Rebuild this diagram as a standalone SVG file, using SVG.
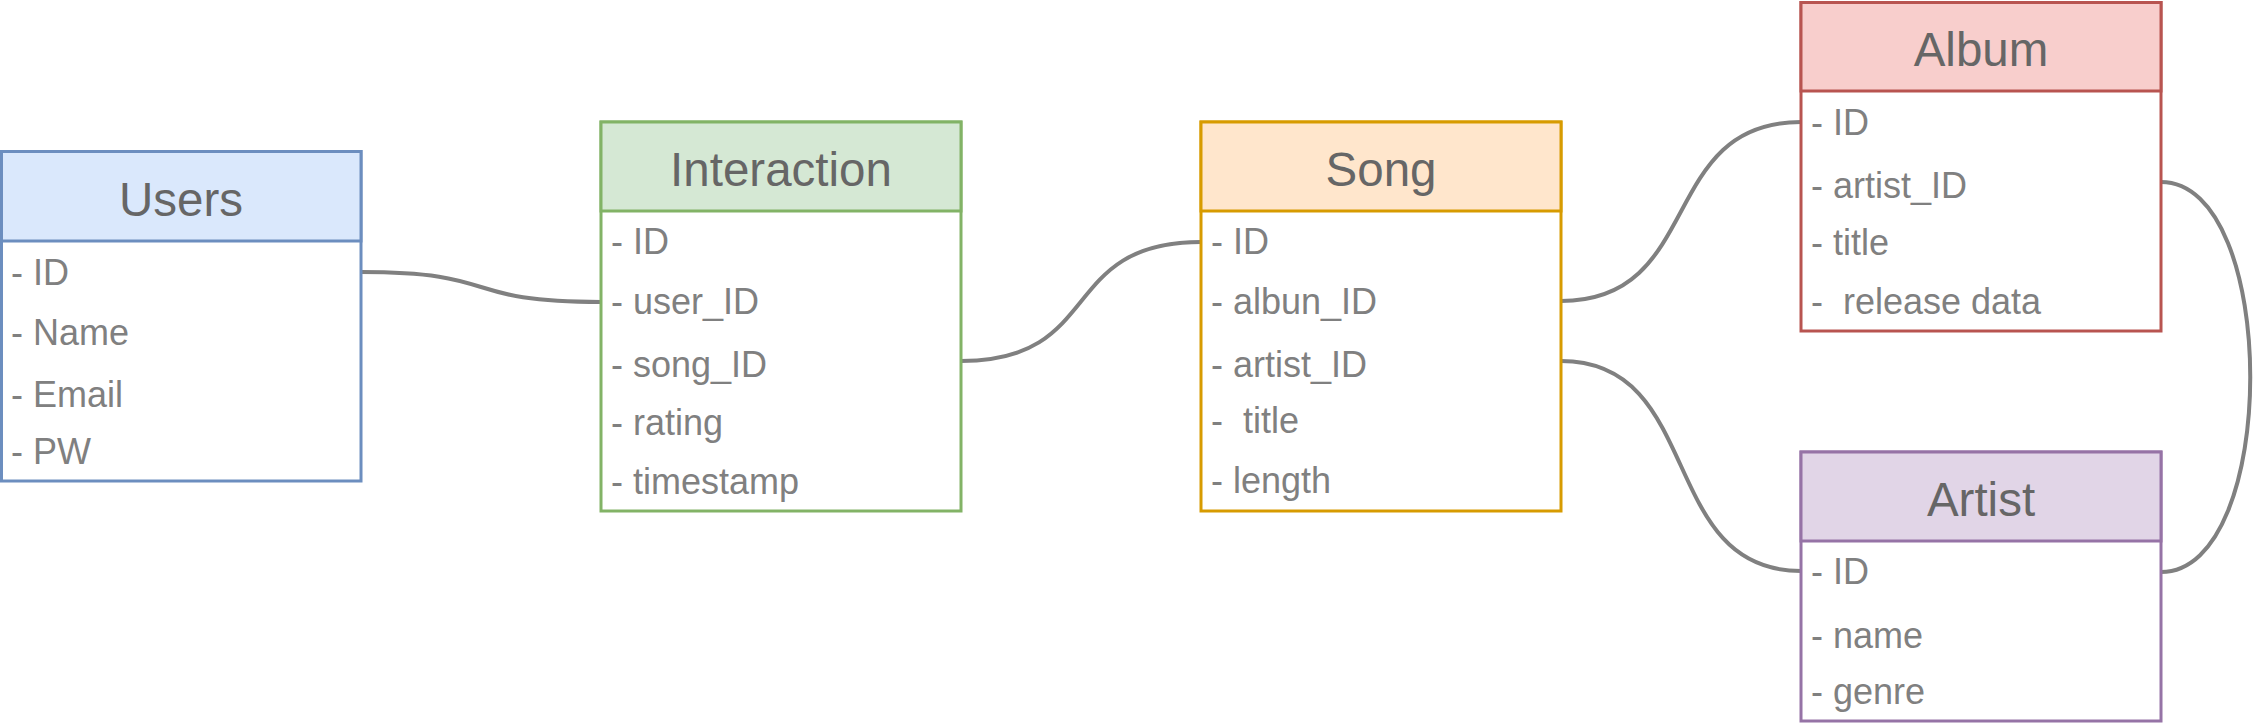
<svg xmlns="http://www.w3.org/2000/svg" width="2256" height="726" viewBox="0 0 2256 726">
<style>
.box{stroke-width:3}
.title{font-family:"Liberation Sans",Arial,sans-serif;font-size:47.5px;fill:#666666;text-anchor:middle}
.row{font-family:"Liberation Sans",Arial,sans-serif;font-size:36px;fill:#808080;white-space:pre}
.conn{fill:none;stroke:#808080;stroke-width:4}
.users{fill:#dae8fc;stroke:#6c8ebf}
.inter{fill:#d5e8d4;stroke:#82b366}
.song{fill:#ffe6cc;stroke:#d79b00}
.album{fill:#f8cecc;stroke:#b85450}
.artist{fill:#e1d5e7;stroke:#9673a6}
</style>
<rect width="2256" height="726" fill="#ffffff"/>
<g id="connectors">
<path class="conn" d="M361,272 C505,272 457,302 601,302"/>
<path class="conn" d="M961,361 C1105,361 1057,242 1201,242"/>
<path class="conn" d="M1561,301 C1705,301 1657,122 1801,122"/>
<path class="conn" d="M1561,361 C1705,361 1657,571 1801,571"/>
<path class="conn" d="M2161,182 C2280,182 2280,572 2161,572"/>
</g>
<g id="users">
<rect class="box users" style="fill:#ffffff" x="1.5" y="151.5" width="359.5" height="329.5"/>
<rect class="box users" x="1.5" y="151.5" width="359.5" height="89.5"/>
<text class="title" x="181" y="216">Users</text>
<text class="row" x="11" y="284.5">- ID</text>
<text class="row" x="11" y="344.5">- Name</text>
<text class="row" x="11" y="406.5">- Email</text>
<text class="row" x="11" y="463.5">- PW</text>
</g>
<g id="interaction">
<rect class="box inter" style="fill:#ffffff" x="601" y="122" width="360" height="389"/>
<rect class="box inter" x="601" y="122" width="360" height="89"/>
<text class="title" x="781" y="186">Interaction</text>
<text class="row" x="611" y="254">- ID</text>
<text class="row" x="611" y="314">- user_ID</text>
<text class="row" x="611" y="376.5">- song_ID</text>
<text class="row" x="611" y="435">- rating</text>
<text class="row" x="611" y="493.5">- timestamp</text>
</g>
<g id="song">
<rect class="box song" style="fill:#ffffff" x="1201" y="122" width="360" height="389"/>
<rect class="box song" x="1201" y="122" width="360" height="89"/>
<text class="title" x="1381" y="186">Song</text>
<text class="row" x="1211" y="254">- ID</text>
<text class="row" x="1211" y="314">- albun_ID</text>
<text class="row" x="1211" y="376.5">- artist_ID</text>
<text class="row" x="1211" y="433" xml:space="preserve">-  title</text>
<text class="row" x="1211" y="493">- length</text>
</g>
<g id="album">
<rect class="box album" style="fill:#ffffff" x="1801" y="2.5" width="360" height="328.5"/>
<rect class="box album" x="1801" y="2.5" width="360" height="88.5"/>
<text class="title" x="1981" y="66">Album</text>
<text class="row" x="1811" y="134.5">- ID</text>
<text class="row" x="1811" y="198">- artist_ID</text>
<text class="row" x="1811" y="255">- title</text>
<text class="row" x="1811" y="314" xml:space="preserve">-  release data</text>
</g>
<g id="artist">
<rect class="box artist" style="fill:#ffffff" x="1801" y="452" width="360" height="269"/>
<rect class="box artist" x="1801" y="452" width="360" height="89"/>
<text class="title" x="1981" y="516">Artist</text>
<text class="row" x="1811" y="584">- ID</text>
<text class="row" x="1811" y="648">- name</text>
<text class="row" x="1811" y="704">- genre</text>
</g>
</svg>
